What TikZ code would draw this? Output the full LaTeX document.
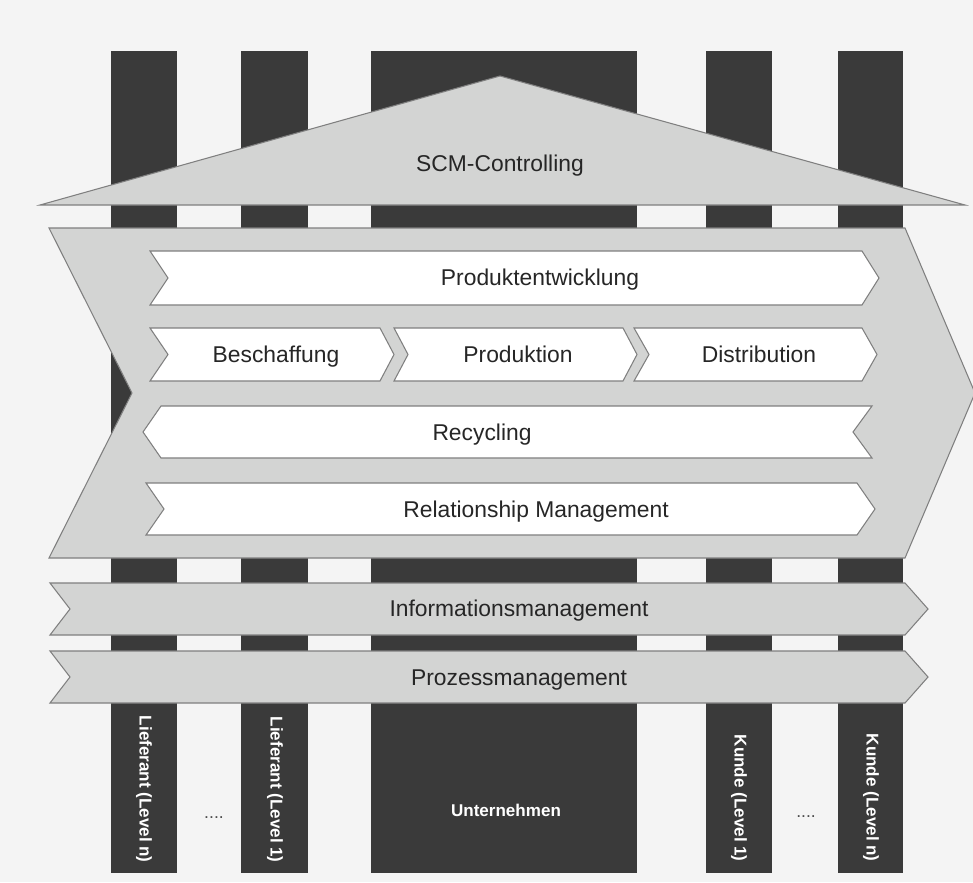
\documentclass[tikz,border=0pt]{standalone}
\usepackage{fontspec}
\setmainfont{Liberation Sans}
\usepackage{xcolor}
\usetikzlibrary{positioning}

\definecolor{pillar}{HTML}{3A3A3A}
\definecolor{lightband}{HTML}{D3D4D3}
\definecolor{edgegray}{HTML}{7F7F7F}
\definecolor{paper}{HTML}{F4F4F4}

% x1, x2, ytop, ybot, notch, tip, style
\newcommand{\flowband}[7]{%
    \draw[#7] (#1,#3) -- (#2,#3) -- ({#2+#6},{(#3+#4)/2}) -- (#2,#4)
        -- (#1,#4) -- ({#1+#5},{(#3+#4)/2}) -- cycle;
}

\begin{document}
\begin{tikzpicture}[
            x=0.02cm, y=-0.02cm,
            greyband/.style={fill=lightband, draw=edgegray, line width=0.6pt, line join=miter},
            whitearrow/.style={fill=white, draw=edgegray, line width=0.6pt, line join=miter},
            bandtext/.style={font=\fontsize{13}{15}\selectfont, text=black!85, inner sep=0pt,
                text height=9.4pt, text depth=2.7pt, yshift=-1.3pt},
            collabel/.style={font=\bfseries\fontsize{9.7}{11}\selectfont, text=white, inner sep=0pt},
        ]
            \useasboundingbox (0,0) rectangle (973,882);
            \fill[paper] (0,0) rectangle (973,882);

            % pillars
            \fill[pillar] (111,51) rectangle (177,873);
            \fill[pillar] (241,51) rectangle (308,873);
            \fill[pillar] (371,51) rectangle (637,873);
            \fill[pillar] (706,51) rectangle (772,873);
            \fill[pillar] (838,51) rectangle (903,873);

            % roof
            \draw[greyband] (500,76) -- (965,205) -- (40,205) -- cycle;
            \node[bandtext] (scm) at (500,163) {SCM-Controlling};

            % big chevron with the core processes
            \flowband{49}{905}{228}{558}{83}{70}{greyband}
            \flowband{150}{862}{251}{305}{18}{17}{whitearrow}
            \flowband{150}{380}{328}{381}{18}{14}{whitearrow}
            \flowband{394}{623}{328}{381}{14}{14}{whitearrow}
            \flowband{634}{862}{328}{381}{15}{15}{whitearrow}
            \flowband{161}{872}{406}{458}{-18}{-19}{whitearrow}
            \flowband{146}{857}{483}{535}{18}{18}{whitearrow}

            \node[bandtext] (prodent) at (540,277) {Produktentwicklung};
            \node[bandtext] (besch) at (276,354) {Beschaffung};
            \node[bandtext] (prod) at (518,354) {Produktion};
            \node[bandtext] (distr) at (759,354) {Distribution};
            \node[bandtext] (recyc) at (482,432) {Recycling};
            \node[bandtext] (relman) at (536,509) {Relationship Management};

            % cross-cutting bands
            \flowband{50}{905}{583}{635}{20}{23}{greyband}
            \flowband{50}{905}{651}{703}{20}{23}{greyband}
            \node[bandtext] (infoman) at (519,608) {Informationsmanagement};
            \node[bandtext] (prozman) at (519,677) {Prozessmanagement};

            % pillar labels
            \node[collabel, rotate=-90, anchor=east] (liefn) at (144,863) {Lieferant (Level n)};
            \node[collabel, rotate=-90, anchor=east] (lief1) at (275,863) {Lieferant (Level 1)};
            \node[collabel, rotate=-90, anchor=east] (kunde1) at (739,862) {Kunde (Level 1)};
            \node[collabel, rotate=-90, anchor=east] (kunden) at (871,862) {Kunde (Level n)};
            \node[collabel] (untern) at (506,810) {Unternehmen};

            \node[font=\fontsize{10}{12}\selectfont, text=black!70, inner sep=0pt] (dotsl) at (214,818) {....};
            \node[font=\fontsize{10}{12}\selectfont, text=black!70, inner sep=0pt] (dotsr) at (806,817) {....};
        \end{tikzpicture}
\end{document}
